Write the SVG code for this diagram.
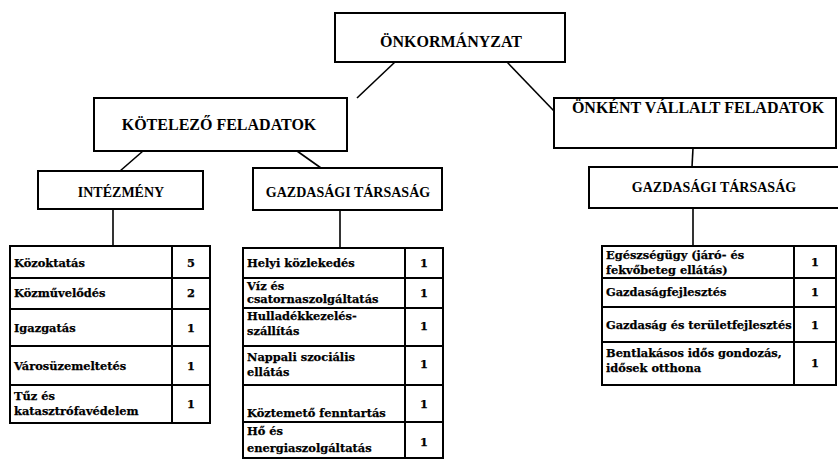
<svg xmlns="http://www.w3.org/2000/svg" width="838" height="459" viewBox="0 0 838 459">
<style>
.box{fill:#fff;stroke:#000;stroke-width:2}
.cell{fill:none;stroke:#000;stroke-width:2}
.con line{stroke:#000;stroke-width:1.6}
.h{font-family:"Liberation Serif",serif;font-weight:bold;text-anchor:middle;fill:#000}
.t{font-family:"DejaVu Serif",serif;font-weight:bold;font-size:11.4px;fill:#000;stroke:#000;stroke-width:0.25}
.n{font-family:"DejaVu Serif",serif;font-weight:bold;font-size:11.4px;fill:#000;stroke:#000;stroke-width:0.25;text-anchor:middle}
</style>
<rect width="838" height="459" fill="#fff"/>
<g id="connectors" class="con">
<line x1="395" y1="62" x2="357" y2="98"/>
<line x1="507" y1="62" x2="554" y2="111"/>
<line x1="143" y1="151" x2="120" y2="171"/>
<line x1="297" y1="151" x2="321" y2="168"/>
<line x1="693" y1="148" x2="692" y2="167"/>
<line x1="113" y1="209" x2="113" y2="246"/>
<line x1="340" y1="210" x2="340" y2="248"/>
<line x1="693" y1="208" x2="693" y2="246"/>
</g>
<g id="onkormanyzat">
<rect class="box" x="335" y="13" width="230" height="49"/>
<text class="h" x="451" y="47" font-size="16">ÖNKORMÁNYZAT</text>
</g>
<g id="kotelezo">
<rect class="box" x="94" y="98" width="253" height="53"/>
<text class="h" x="219" y="130" font-size="16">KÖTELEZŐ FELADATOK</text>
</g>
<g id="onkent">
<rect class="box" x="554" y="98" width="282" height="50"/>
<text class="h" x="698" y="113" font-size="16">ÖNKÉNT VÁLLALT FELADATOK</text>
</g>
<g id="intezmeny">
<rect class="box" x="38" y="171" width="165" height="38"/>
<text class="h" x="121" y="197" font-size="14">INTÉZMÉNY</text>
</g>
<g id="gazdasagi-mid">
<rect class="box" x="253" y="168" width="189" height="42"/>
<text class="h" x="348" y="197" font-size="14">GAZDASÁGI TÁRSASÁG</text>
</g>
<g id="gazdasagi-right">
<rect class="box" x="589" y="167" width="252" height="41"/>
<text class="h" x="714" y="192" font-size="14">GAZDASÁGI TÁRSASÁG</text>
</g>
<g id="table-intezmeny">
<rect class="cell" x="10" y="246" width="200" height="177"/>
<line class="cell" x1="172" y1="246" x2="172" y2="423"/>
<line class="cell" x1="10" y1="278" x2="210" y2="278"/>
<line class="cell" x1="10" y1="309" x2="210" y2="309"/>
<line class="cell" x1="10" y1="346" x2="210" y2="346"/>
<line class="cell" x1="10" y1="385" x2="210" y2="385"/>
<text class="t" x="14" y="267">Közoktatás</text><text class="n" x="191" y="267">5</text>
<text class="t" x="14" y="297">Közművelődés</text><text class="n" x="191" y="297">2</text>
<text class="t" x="14" y="332">Igazgatás</text><text class="n" x="191" y="332">1</text>
<text class="t" x="14" y="370">Városüzemeltetés</text><text class="n" x="191" y="370">1</text>
<text class="t" x="14" y="400">Tűz és</text><text class="t" x="14" y="415">katasztrófavédelem</text><text class="n" x="191" y="408">1</text>
</g>
<g id="table-gazdasagi">
<rect class="cell" x="243" y="248" width="200" height="210"/>
<line class="cell" x1="405" y1="248" x2="405" y2="458"/>
<line class="cell" x1="243" y1="278" x2="443" y2="278"/>
<line class="cell" x1="243" y1="308" x2="443" y2="308"/>
<line class="cell" x1="243" y1="346" x2="443" y2="346"/>
<line class="cell" x1="243" y1="385" x2="443" y2="385"/>
<line class="cell" x1="243" y1="422" x2="443" y2="422"/>
<text class="t" x="247" y="267">Helyi közlekedés</text><text class="n" x="424" y="267">1</text>
<text class="t" x="247" y="290">Víz és</text><text class="t" x="247" y="303">csatornaszolgáltatás</text><text class="n" x="424" y="297">1</text>
<text class="t" x="247" y="320">Hulladékkezelés-</text><text class="t" x="247" y="335">szállítás</text><text class="n" x="424" y="330">1</text>
<text class="t" x="247" y="361">Nappali szociális</text><text class="t" x="247" y="376">ellátás</text><text class="n" x="424" y="368">1</text>
<text class="t" x="247" y="417">Köztemető fenntartás</text><text class="n" x="424" y="408">1</text>
<text class="t" x="247" y="435">Hő és</text><text class="t" x="247" y="452">energiaszolgáltatás</text><text class="n" x="424" y="446">1</text>
</g>
<g id="table-onkent">
<rect class="cell" x="602" y="246" width="234" height="139"/>
<line class="cell" x1="794" y1="246" x2="794" y2="385"/>
<line class="cell" x1="602" y1="278" x2="836" y2="278"/>
<line class="cell" x1="602" y1="307" x2="836" y2="307"/>
<line class="cell" x1="602" y1="342" x2="836" y2="342"/>
<text class="t" x="606" y="259">Egészségügy (járó- és</text><text class="t" x="606" y="274">fekvőbeteg ellátás)</text><text class="n" x="815" y="266">1</text>
<text class="t" x="606" y="296">Gazdaságfejlesztés</text><text class="n" x="815" y="296">1</text>
<text class="t" x="606" y="329">Gazdaság és területfejlesztés</text><text class="n" x="815" y="329">1</text>
<text class="t" x="606" y="357">Bentlakásos idős gondozás,</text><text class="t" x="606" y="372">idősek otthona</text><text class="n" x="815" y="367">1</text>
</g>
</svg>
